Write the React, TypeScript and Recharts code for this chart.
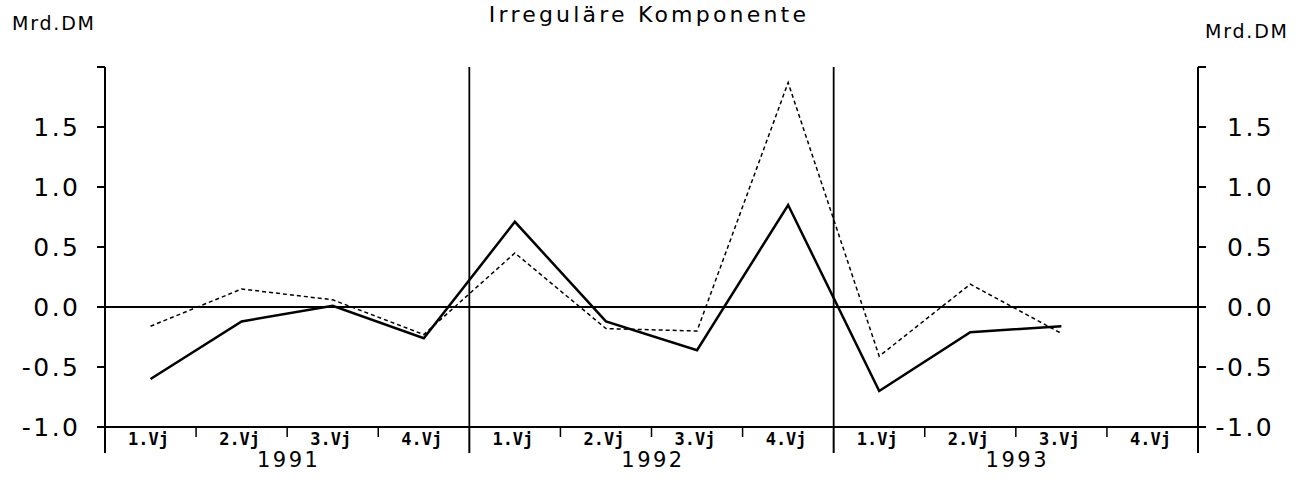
import React from 'react';
import { LineChart, Line, XAxis, YAxis, ReferenceLine } from 'recharts';

const years = ['1991', '1992', '1993'];
const quarters = ['1.Vj', '2.Vj', '3.Vj', '4.Vj'];
const solidValues: (number | null)[] = [-0.6, -0.12, 0.01, -0.26, 0.71, -0.12, -0.36, 0.85, -0.7, -0.21, -0.16, null];
const dashedValues: (number | null)[] = [-0.16, 0.15, 0.06, -0.23, 0.45, -0.18, -0.2, 1.87, -0.41, 0.19, -0.22, null];
const yTicks = [-1, -0.5, 0, 0.5, 1, 1.5, 2];
const xTicks = Array.from({ length: 25 }, (_, i) => i / 2);
const yearSeparators = [4, 8];

const data = solidValues.map((v, i) => ({ x: i + 0.5, solid: v, dashed: dashedValues[i] }));

const FONT = '"DejaVu Sans", sans-serif';

function fmt(v: number) {
  return v.toFixed(1);
}

function LeftTick(props: any) {
  const { x, y, payload } = props;
  if (payload.value === 2) return <g />;
  return (
    <text x={x - 16.5} y={y} dy="0.36em" textAnchor="end" fontFamily={FONT} fontSize={25} letterSpacing={2.5} fill="#000">
      {fmt(payload.value)}
    </text>
  );
}

function RightTick(props: any) {
  const { x, y, payload } = props;
  if (payload.value === 2) return <g />;
  const neg = payload.value < 0;
  return (
    <text x={x + (neg ? 9.5 : 21)} y={y} dy="0.36em" textAnchor="start" fontFamily={FONT} fontSize={25} letterSpacing={2.5} fill="#000">
      {fmt(payload.value)}
    </text>
  );
}

function XTick(props: any) {
  const { x, y, payload } = props;
  const v = payload.value as number;
  if (Number.isInteger(v)) {
    const isYear = v % 4 === 0;
    return (
      <g>
        <line x1={x} x2={x} y1={y} y2={y + (isYear ? 26 : 10)} stroke="#000" strokeWidth={isYear ? 2 : 1.5} />
        {v % 4 === 2 && (
          <text x={x + 1.5} y={y + 40} textAnchor="middle" fontFamily={FONT} fontSize={21} letterSpacing={2.5} fill="#000">
            {years[(v - 2) / 4]}
          </text>
        )}
      </g>
    );
  }
  const i = Math.floor(v);
  return (
    <text x={x - 2} y={y + 18} textAnchor="middle" fontFamily='"DejaVu Sans Mono", monospace' fontWeight="bold" fontSize={17} fill="#000">
      {quarters[i % 4]}
    </text>
  );
}

export default function App() {
  return (
    <div style={{ position: 'absolute', left: 0, top: 0, width: 1308, height: 484, background: '#fff' }}>
      <svg width={1308} height={484} style={{ position: 'absolute', left: 0, top: 0 }}>
        <text x={649} y={22} textAnchor="middle" fontFamily={FONT} fontSize={22} letterSpacing={3.2} fill="#000">
          Irreguläre Komponente
        </text>
        <text x={12} y={30} fontFamily={FONT} fontSize={19} letterSpacing={1.8} fill="#000">
          Mrd.DM
        </text>
        <text x={1205} y={38} fontFamily={FONT} fontSize={19} letterSpacing={1.8} fill="#000">
          Mrd.DM
        </text>
      </svg>
      <div style={{ position: 'absolute', left: 0, top: 0 }}>
        <LineChart width={1308} height={484} data={data} margin={{ top: 67, right: 0, left: 0, bottom: 0 }}>
          <XAxis
            dataKey="x"
            type="number"
            domain={[0, 12]}
            ticks={xTicks}
            interval={0}
            allowDecimals
            tickLine={false}
            tickSize={0}
            tickMargin={0}
            height={57}
            axisLine={{ stroke: '#000', strokeWidth: 2 }}
            tick={<XTick />}
          />
          <YAxis
            yAxisId="left"
            domain={[-1, 2]}
            ticks={yTicks}
            interval={0}
            width={105}
            tickSize={8}
            tickMargin={0}
            axisLine={{ stroke: '#000', strokeWidth: 2 }}
            tickLine={{ stroke: '#000', strokeWidth: 2 }}
            tick={<LeftTick />}
          />
          <YAxis
            yAxisId="right"
            orientation="right"
            domain={[-1, 2]}
            ticks={yTicks}
            interval={0}
            width={110}
            tickSize={8}
            tickMargin={0}
            axisLine={{ stroke: '#000', strokeWidth: 2 }}
            tickLine={{ stroke: '#000', strokeWidth: 2 }}
            tick={<RightTick />}
          />
          <ReferenceLine yAxisId="left" y={0} stroke="#000" strokeWidth={2} />
          {yearSeparators.map((s) => (
            <ReferenceLine key={s} yAxisId="left" x={s} stroke="#000" strokeWidth={1.8} />
          ))}
          <Line
            yAxisId="right"
            type="linear"
            dataKey="dashed"
            stroke="#000"
            strokeWidth={1.5}
            strokeDasharray="4 3"
            dot={false}
            isAnimationActive={false}
          />
          <Line
            yAxisId="left"
            type="linear"
            dataKey="solid"
            stroke="#000"
            strokeWidth={2.5}
            dot={false}
            isAnimationActive={false}
          />
        </LineChart>
      </div>
    </div>
  );
}
